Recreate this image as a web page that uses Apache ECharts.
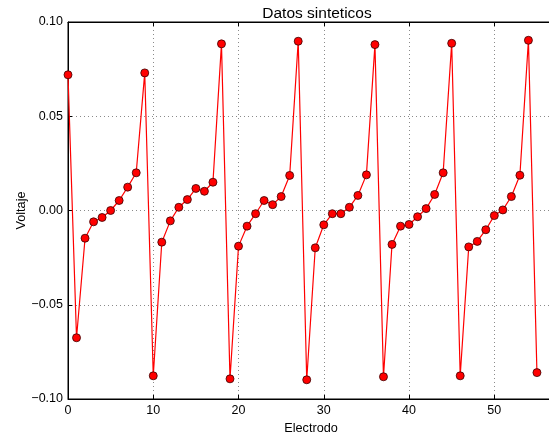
<!DOCTYPE html>
<html>
<head>
<meta charset="utf-8">
<script src="https://cdn.jsdelivr.net/npm/echarts@6/dist/echarts.min.js"></script>
<style>
  html, body { margin: 0; padding: 0; background: #fff; }
  #chart { width: 549px; height: 437px; }
</style>
</head>
<body>
<div id="chart"></div>
<script>
// Electrode index (0..55) and the synthetic voltage readings
const electrodes = Array.from({ length: 56 }, (_, i) => i);
const voltages = [
  0.072, -0.0675, -0.0147, -0.006, -0.0037, 0.000, 0.0053, 0.0124, 0.020,
  0.073, -0.0877, -0.0168, -0.0055, 0.0017, 0.0058, 0.0117, 0.0102, 0.015,
  0.0884, -0.0893, -0.0189, -0.0083, -0.0017, 0.0053, 0.0031, 0.0074, 0.0186,
  0.0898, -0.0898, -0.0198, -0.0076, -0.0017, -0.0017, 0.0017, 0.008, 0.0189,
  0.088, -0.0882, -0.018, -0.0083, -0.0074, -0.0033, 0.001, 0.0085, 0.020,
  0.0887, -0.0877, -0.0193, -0.0164, -0.0102, -0.0027, 0.0003, 0.0074, 0.0187,
  0.0903, -0.086
];
const xTicks = [0, 10, 20, 30, 40, 50];
const yTicks = [-0.10, -0.05, 0.00, 0.05, 0.10];

const FONT = '"Liberation Sans", Arial, sans-serif';
const points = electrodes.map((x, i) => [x, voltages[i]]);

const chart = echarts.init(document.getElementById('chart'), null, { renderer: 'canvas' });

const tickCommon = { show: true, inside: true, length: 4, lineStyle: { color: '#000', width: 1 } };
const gridLine = { show: true, lineStyle: { color: '#8a8a8a', type: [1, 3], width: 1 } };

chart.setOption({
  animation: false,
  backgroundColor: '#fff',
  title: {
    text: 'Datos sinteticos',
    left: 312,
    textAlign: 'center',
    top: 1,
    textStyle: { fontFamily: FONT, fontSize: 15.5, fontWeight: 'normal', color: '#000' }
  },
  // plot area runs a few pixels past the right edge of the canvas
  grid: {
    left: 68, top: 22, width: 486, height: 377,
    outerBoundsMode: 'none',
    containLabel: false,
    show: true, borderColor: '#000', borderWidth: 1, backgroundColor: 'transparent'
  },
  xAxis: [{
    type: 'value', min: 0, max: 57, interval: 10,
    name: 'Electrodo', nameLocation: 'middle', nameGap: 20,
    nameTextStyle: { fontFamily: FONT, fontSize: 12.7, color: '#000' },
    axisLine: { show: true, onZero: false, lineStyle: { color: '#000', width: 1 } },
    axisTick: tickCommon,
    axisLabel: {
      fontFamily: FONT, fontSize: 12.5, color: '#000', margin: 5,
      customValues: xTicks
    },
    splitLine: gridLine
  }, {
    type: 'value', position: 'top', min: 0, max: 57, interval: 10,
    axisLine: { show: true, onZero: false, lineStyle: { color: '#000', width: 1 } },
    axisTick: tickCommon, axisLabel: { show: false }, splitLine: { show: false }
  }],
  yAxis: [{
    type: 'value', min: -0.1, max: 0.1, interval: 0.05,
    name: 'Voltaje', nameLocation: 'middle', nameGap: 40, nameRotate: 90,
    nameMoveOverlap: false,
    nameTextStyle: { fontFamily: FONT, fontSize: 12.7, color: '#000' },
    axisLine: { show: true, onZero: false, lineStyle: { color: '#000', width: 1 } },
    axisTick: tickCommon,
    axisLabel: {
      fontFamily: FONT, fontSize: 12.5, color: '#000', margin: 5,
      customValues: yTicks,
      formatter: v => (v < 0 ? '\u2212' : '') + Math.abs(v).toFixed(2)
    },
    splitLine: gridLine
  }],
  series: [{
    type: 'line',
    data: points,
    xAxisIndex: 0,
    yAxisIndex: 0,
    symbol: 'circle',
    symbolSize: 8,
    clip: true,
    lineStyle: { color: '#ff0000', width: 1.2 },
    itemStyle: { color: '#ff0000', borderColor: '#3a0000', borderWidth: 0.8 }
  }]
});
</script>
</body>
</html>
